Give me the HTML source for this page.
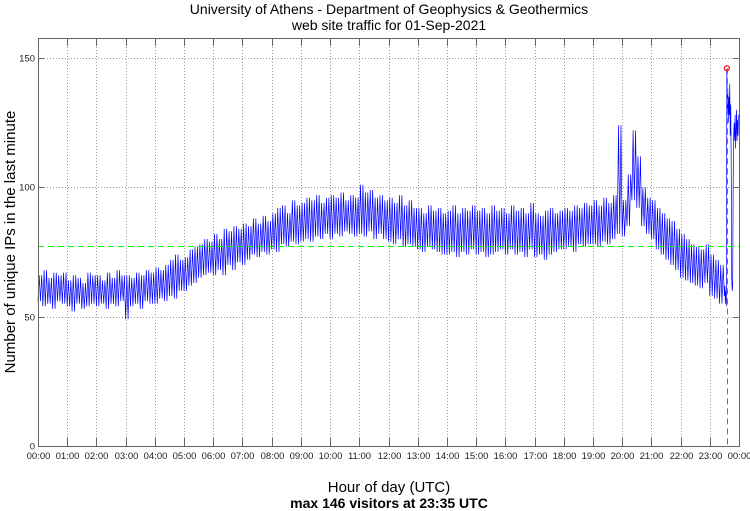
<!DOCTYPE html>
<html><head><meta charset="utf-8"><style>
body{margin:0;background:#fff;}
svg{display:block;font-family:"Liberation Sans",sans-serif;}
</style></head><body>
<svg id="chart" width="750" height="511">
<text x="389" y="14" text-anchor="middle" font-size="14">University of Athens - Department of Geophysics &amp; Geothermics</text>
<text x="389" y="30" text-anchor="middle" font-size="14">web site traffic for 01-Sep-2021</text>
<text transform="translate(15,242) rotate(-90)" text-anchor="middle" font-size="15">Number of unique IPs in the last minute</text>
<text x="389" y="492" text-anchor="middle" font-size="15">Hour of day (UTC)</text>
<text x="389" y="508" text-anchor="middle" font-size="14" font-weight="bold">max 146 visitors at 23:35 UTC</text>
<g id="grid"></g><g id="series"></g><g id="axes"></g>
</svg>
<script>
const yTicks=[0,50,100,150];
const xTickLabels=["00:00","01:00","02:00","03:00","04:00","05:00","06:00","07:00","08:00","09:00","10:00","11:00","12:00","13:00","14:00","15:00","16:00","17:00","18:00","19:00","20:00","21:00","22:00","23:00","00:00"];
const bucketLows=[56,54,55,53,56,55, 54,52,55,53,54,55, 54,55,53,55,54,56, 49,54,55,53,56,55, 55,57,56,58,57,60, 60,62,63,65,66,67, 66,68,66,70,68,71, 70,72,74,73,75,74, 76,75,78,77,79,78, 79,80,79,81,80,82, 80,82,81,83,82,81, 82,81,83,80,82,80, 79,78,80,77,78,77, 76,75,77,76,75,74, 74,75,73,75,74,76, 74,75,73,74,75,76, 74,76,74,75,73,76, 73,74,72,74,75,76, 76,77,75,78,77,78, 78,77,79,78,80,82, 81,85,95,92,85,82, 80,76,74,72,70,68, 65,64,63,62,61,63, 58,57,55];
const bucketHighs=[66,68,65,67,66,67, 64,66,65,63,67,66, 66,64,67,65,68,66, 66,65,67,66,68,67, 69,68,70,72,74,72, 73,76,77,78,80,79, 82,80,84,83,85,84, 86,85,88,86,89,87, 90,92,93,90,95,93, 94,96,95,97,94,96, 97,96,98,95,97,96, 101,98,99,96,97,95, 96,94,97,93,95,92, 92,90,93,91,92,90, 91,93,90,92,91,93, 91,92,90,93,91,92, 90,93,91,92,90,94, 90,89,91,92,90,91, 92,91,93,92,94,93, 95,93,96,94,97,124, 95,105,122,112,100,96, 95,92,90,88,87,84, 82,80,78,77,76,78, 74,72,70];
const tailValues=[58,62,55,60,54,146,130,138,125,135,128,140,120,132,110,65,60,62,100,120,125,118,128,115,122,130,118,126,120,128];
const meanValue=77.5;
const maxValue=146, maxMinute=23*60+35;

const L=38,R=739,T=38,B=446;
const x=m=>L+(R-L)*m/1440;
const y=v=>B-v*(B-58)/150;
const NS="http://www.w3.org/2000/svg";
function mk(parent,tag,attrs){const e=document.createElementNS(NS,tag);for(const k in attrs)e.setAttribute(k,attrs[k]);document.getElementById(parent).appendChild(e);return e;}
for(let i=1;i<24;i++){const xx=Math.round(x(i*60))+0.5;const e=mk('grid','line',{x1:xx,x2:xx,y1:T,y2:B,stroke:'#999','stroke-dasharray':'1,2'});

}
yTicks.forEach(v=>{if(v===0)return;const yy=Math.round(y(v))+0.5;const e=mk('grid','line',{x1:L,x2:R,y1:yy,y2:yy,stroke:'#999','stroke-dasharray':'1,2'});

});
let pts=[];
for(let i=0;i<bucketLows.length;i++){const m=i*10;
 for(let k=0;k<2;k++){pts.push(x(m+k*5)+','+y(bucketLows[i]));pts.push(x(m+k*5+2.5)+','+y(bucketHighs[i]));}}
const tailStart=bucketLows.length*10;
tailValues.forEach((v,i)=>pts.push(x(tailStart+i)+','+y(v)));
const line=mk('series','polyline',{points:pts.join(' '),fill:'none',stroke:'#0000ff','stroke-width':0.7});


const my=Math.round(y(meanValue))+0.5;
const mean=mk('series','line',{x1:L,x2:R,y1:my,y2:my,stroke:'#00ff00','stroke-width':1,'stroke-dasharray':'6,4'});


const vx=Math.round(x(maxMinute))+0.5;
const vm=mk('series','line',{x1:vx,x2:vx,y1:y(maxValue),y2:B,stroke:'#dd4444','stroke-width':1,'stroke-dasharray':'6,4'});


const mc=mk('series','circle',{cx:x(maxMinute),cy:y(maxValue),r:2.5,fill:'none',stroke:'#ff0000','stroke-width':1.2});


const fr=mk('axes','rect',{x:L+0.5,y:T+0.5,width:R-L,height:B-T,fill:'none',stroke:'#666','stroke-width':1});


xTickLabels.forEach((t,i)=>{const xx=Math.round(x(i*60))+0.5;
mk('axes','line',{x1:xx,x2:xx,y1:B,y2:B-8,stroke:'#666'});
mk('axes','line',{x1:xx,x2:xx,y1:T,y2:T+8,stroke:'#666'});
const e=mk('axes','text',{x:xx,y:B+13,'text-anchor':'middle','font-size':9.5,fill:'#222'});e.textContent=t;

});
yTicks.forEach(v=>{const yy=Math.round(y(v))+0.5;
mk('axes','line',{x1:L,x2:L+6,y1:yy,y2:yy,stroke:'#666'});
mk('axes','line',{x1:R,x2:R-6,y1:yy,y2:yy,stroke:'#666'});
const e=mk('axes','text',{x:L-3,y:yy+3,'text-anchor':'end','font-size':9.5,fill:'#222'});e.textContent=v;

});
</script>
</body></html>
